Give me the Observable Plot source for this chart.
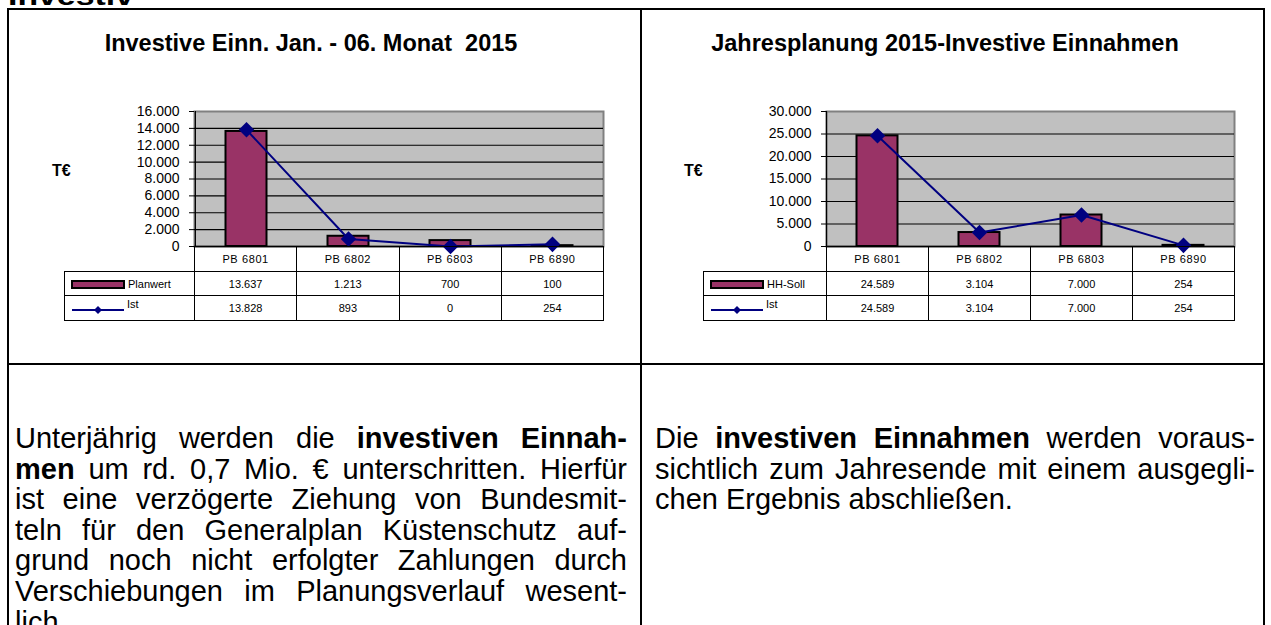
<!DOCTYPE html>
<html><head><meta charset="utf-8">
<script src="https://cdn.jsdelivr.net/npm/d3@7"></script>
<script src="https://cdn.jsdelivr.net/npm/@observablehq/plot@0.6"></script>
<style>
body{margin:0;background:#fff;font-family:"Liberation Sans",Arial,sans-serif;color:#000;}
#page{position:relative;width:1271px;height:625px;overflow:hidden;background:#fff;}
.vl{position:absolute;background:#000;width:2px;}
.hl{position:absolute;background:#000;height:2px;}
.title{position:absolute;font-weight:bold;font-size:23.5px;white-space:nowrap;transform:translateX(-50%);}
.ylab{position:absolute;font-weight:bold;font-size:16px;}
.chart{position:absolute;}
table.dt{position:absolute;border-collapse:collapse;table-layout:fixed;font-size:11px;font-family:"Liberation Sans",Arial,sans-serif;}
table.dt td{border:1px solid #000;text-align:center;padding:0;white-space:nowrap;overflow:hidden;}
table.dt td.blank{border:none;border-right:1px solid #000;}
table.dt td.leg{text-align:left;padding-left:6px;}
table.dt tr.cat td{letter-spacing:0.6px;}
.swatch{display:inline-block;width:50px;height:5px;background:#993366;border:2px solid #000;vertical-align:middle;margin-right:3px;}
.body{position:absolute;font-size:29px;line-height:30.6px;}
.body div{text-align:justify;text-align-last:justify;}
.body div.last{text-align-last:left;}
.cut{position:absolute;left:8px;top:-19px;font-weight:bold;font-size:26px;transform:scaleX(1.3);transform-origin:left top;}
</style></head>
<body><div id="page"></div>
<script>
// ---- data ----
const categories = ["PB 6801", "PB 6802", "PB 6803", "PB 6890"];
const planwert   = [13637, 1213, 700, 100];
const istHalb    = [13828, 893, 0, 254];
const hhSoll     = [24589, 3104, 7000, 254];
const istJahr    = [24589, 3104, 7000, 254];
const ticksLeft  = [0, 2000, 4000, 6000, 8000, 10000, 12000, 14000, 16000];
const ticksRight = [0, 5000, 10000, 15000, 20000, 25000, 30000];
const titleLeft  = "Investive Einn. Jan. - 06. Monat&nbsp; 2015";
const titleRight = "Jahresplanung 2015-Investive Einnahmen";
const unitLabel  = "T€";
const leftSeries  = ["Planwert", "Ist"];
const rightSeries = ["HH-Soll", "Ist"];
const textLeft = [
  'Unterjährig werden die <b>investiven Einnah-</b>',
  '<b>men</b> um rd. 0,7 Mio. € unterschritten. Hierfür',
  'ist eine verzögerte Ziehung von Bundesmit-',
  'teln für den Generalplan Küstenschutz auf-',
  'grund noch nicht erfolgter Zahlungen durch',
  'Verschiebungen im Planungsverlauf wesent-',
  'lich.'
];
const textRight = [
  'Die <b>investiven Einnahmen</b> werden voraus-',
  'sichtlich zum Jahresende mit einem ausgegli-',
  'chen Ergebnis abschließen.'
];

const de = d3.formatLocale({decimal: ",", thousands: ".", grouping: [3], currency: ["", "€"]});
const fmt = de.format(",.0f");
const page = document.getElementById("page");

function add(html, cls, style) {
  const d = document.createElement("div");
  if (cls) d.className = cls;
  d.innerHTML = html;
  Object.assign(d.style, style || {});
  page.appendChild(d);
  return d;
}

// cut-off heading at the very top
add("Investiv", "cut");

// outer table grid
add("", "vl", {left: "7px", top: "8px", height: "620px"});
add("", "vl", {left: "640px", top: "8px", height: "620px"});
add("", "vl", {left: "1263px", top: "8px", height: "620px"});
add("", "hl", {left: "7px", top: "8px", width: "1258px"});
add("", "hl", {left: "7px", top: "363px", width: "1258px"});

function drawChart(opts) {
  const {left, width, marginLeft, marginRight, barVals, lineVals, ticks} = opts;
  const data = categories.map((c, i) => ({cat: c, bar: barVals[i], line: lineVals[i]}));
  const yMax = ticks[ticks.length - 1];
  const bw = (width - marginLeft - marginRight) / categories.length;
  const plot = Plot.plot({
    width, height: 150, marginLeft, marginRight, marginTop: 11, marginBottom: 4,
    style: {background: "transparent", overflow: "visible", fontFamily: "Liberation Sans, Arial, sans-serif", fontSize: "14px", color: "#000"},
    x: {domain: categories, padding: 0, axis: null},
    y: {domain: [0, yMax], label: null},
    marks: [
      Plot.frame({fill: "#c0c0c0", stroke: "#808080", strokeWidth: 2}),
      Plot.ruleY(ticks.slice(1, -1), {stroke: "#000", strokeWidth: 1.2}),
      Plot.barY(data, {x: "cat", y: "bar", fill: "#993366", stroke: "#000", strokeWidth: 2, insetLeft: 30.5, insetRight: 30.5}),
      Plot.ruleY([0], {stroke: "#000", strokeWidth: 1.5}),
      Plot.ruleX([categories[0]], {dx: -bw / 2, stroke: "#000", strokeWidth: 1.2}),
      Plot.axisY({ticks, tickFormat: fmt, tickSize: 5, tickPadding: 10, fontSize: 14, label: null}),
      Plot.line(data, {x: "cat", y: "line", stroke: "#000080", strokeWidth: 2}),
      Plot.dot(data, {x: "cat", y: "line", symbol: "diamond2", r: 7, fill: "#000080", stroke: "none"})
    ]
  });
  const holder = add("", "chart", {left: left + "px", top: "100px"});
  holder.appendChild(plot);
}

function drawTable(opts) {
  const {left, legendW, colW, names, barVals, lineVals} = opts;
  const t = document.createElement("table");
  t.className = "dt";
  t.style.left = left + "px";
  t.style.top = "246px";
  t.style.width = (legendW + colW * categories.length) + "px";
  let h = '<colgroup><col style="width:' + legendW + 'px">' + categories.map(() => '<col style="width:' + colW + 'px">').join("") + '</colgroup>';
  h += '<tr class="cat" style="height:25px"><td class="blank"></td>' + categories.map(c => '<td>' + c + '</td>').join("") + '</tr>';
  h += '<tr style="height:24px"><td class="leg"><span class="swatch"></span>' + names[0] + '</td>' + barVals.map(v => '<td>' + fmt(v) + '</td>').join("") + '</tr>';
  h += '<tr style="height:25px"><td class="leg"><svg width="54" height="12" style="vertical-align:middle;margin-right:2px"><line x1="1" y1="7" x2="53" y2="7" stroke="#000080" stroke-width="2"/><path d="M27,3 L31,7 L27,11 L23,7 Z" fill="#000080"/></svg><span style="position:relative;top:-3px">' + names[1] + '</span></td>' + lineVals.map(v => '<td>' + fmt(v) + '</td>').join("") + '</tr>';
  t.innerHTML = h;
  page.appendChild(t);
}

// left chart
add(titleLeft, "title", {left: "311px", top: "30px"});
add(unitLabel, "ylab", {left: "52px", top: "162px"});
drawChart({left: 0, width: 620, marginLeft: 194, marginRight: 17, barVals: planwert, lineVals: istHalb, ticks: ticksLeft});
drawTable({left: 64, legendW: 130, colW: 102.25, names: leftSeries, barVals: planwert, lineVals: istHalb});

// right chart
add(titleRight, "title", {left: "945px", top: "30px"});
add(unitLabel, "ylab", {left: "684px", top: "162px"});
drawChart({left: 640, width: 620, marginLeft: 186, marginRight: 26, barVals: hhSoll, lineVals: istJahr, ticks: ticksRight});
drawTable({left: 703, legendW: 123, colW: 102, names: rightSeries, barVals: hhSoll, lineVals: istJahr});

// body texts
add(textLeft.map((l, i) => '<div' + (i === textLeft.length - 1 ? ' class="last"' : '') + '>' + l + '</div>').join(""), "body", {left: "15px", top: "423px", width: "612px"});
add(textRight.map((l, i) => '<div' + (i === textRight.length - 1 ? ' class="last"' : '') + '>' + l + '</div>').join(""), "body", {left: "655px", top: "423px", width: "600px"});
</script>
</body></html>
